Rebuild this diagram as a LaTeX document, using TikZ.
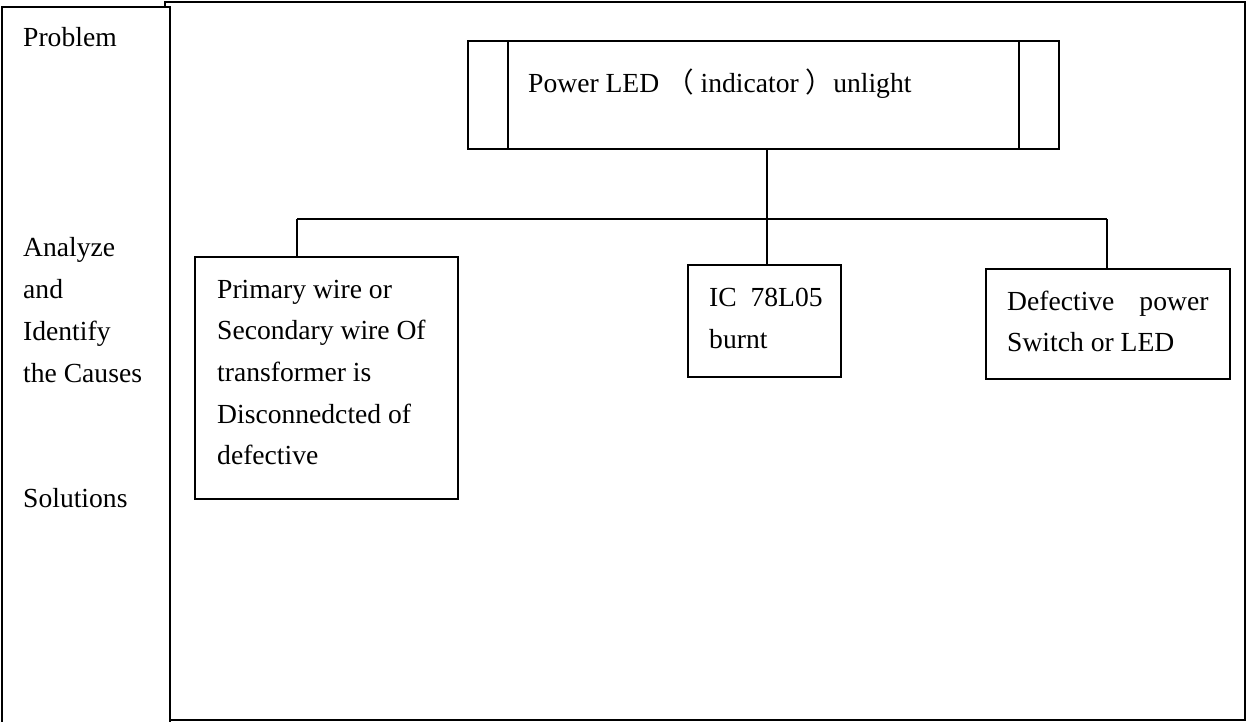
\documentclass[tikz,border=0pt]{standalone}
\usepackage{fontspec}
\setmainfont{Liberation Serif}
\newfontfamily\cjk{Noto Sans CJK SC}
\tikzset{
    procbox/.style = {rectangle, draw=black, line width=1.5pt, minimum width=591pt, minimum height=108pt, inner sep=0pt},
    causebox/.style = {rectangle, draw=black, line width=1.5pt, inner sep=0pt},
    txt/.style = {inner sep=0pt, anchor=base west, align=left, font=\fontsize{27.6}{41.7}\selectfont},
}
\begin{document}
\begin{tikzpicture}[x=1pt, y=-1pt]
\tikzset{
    frame/.style = {line width=1.8pt},
    wire/.style = {-, line width=1.6pt}
}
\useasboundingbox (0,0) rectangle (1247,722);
% table frame
\draw[frame] (2,724) -- (2,7) -- (170,7) -- (170,724);
\draw[frame] (165,8) -- (165,2) -- (1245,2) -- (1245,720) -- (170,720);
% row labels (multi-line nodes sit on their last baseline)
\node[txt] at (23,47) (prob) {Problem};
\node[txt] at (23,382) (anal) {Analyze\\and\\Identify\\the Causes};
\node[txt] at (23,507) (sol) {Solutions};
% problem
\node[procbox] at (763.3,95) (led) {};
\draw[wire] ([xshift=40.7pt]led.north west) -- ([xshift=40.7pt]led.south west);
\draw[wire] ([xshift=-40.8pt]led.north east) -- ([xshift=-40.8pt]led.south east);
\node[txt] at (528,92.5) (ledtxt) {Power LED {\cjk （} indicator {\cjk ）}unlight};
% causes
\node[causebox, minimum width=263pt, minimum height=242pt] at (326.5,378) (wirebox) {};
\node[causebox, minimum width=153pt, minimum height=112pt] at (764.3,321) (icbox) {};
\node[causebox, minimum width=244pt, minimum height=110pt] at (1108,324) (swbox) {};
\node[txt] at (217,464.8) (wiretxt) {Primary wire or\\Secondary wire Of\\transformer is\\Disconnedcted of\\defective};
\node[txt] at (709,348.2) (ictxt) {IC~~78L05\\burnt};
\node[txt] at (1007,351.7) (swtxt) {Defective\hspace{25pt}power\\Switch or LED};
%
\coordinate (fork) at (767,219);
\coordinate (forkl) at (297,219);
\coordinate (forkr) at (1107,219);
\draw[wire] (fork |- led.south) -- (fork);
\draw[wire] (forkl) -- (forkr);
\draw[wire] (forkl) -- (forkl |- wirebox.north);
\draw[wire] (fork) -- (fork |- icbox.north);
\draw[wire] (forkr) -- (forkr |- swbox.north);
\end{tikzpicture}
\end{document}
